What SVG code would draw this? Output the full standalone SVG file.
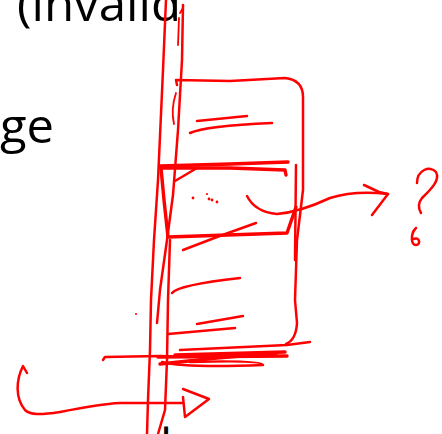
<svg xmlns="http://www.w3.org/2000/svg" width="442" height="434" viewBox="0 0 442 434">
<style>
.ink{fill:none;stroke:#ff0000;stroke-width:2.5;stroke-linecap:round;stroke-linejoin:round}
.thick{stroke-width:3.4}
.thin{stroke-width:1.8}
.dot{fill:#ff0000}
.txt{font-family:"Open Sans","Liberation Sans",sans-serif;font-size:48px;fill:#000}
</style>
<rect width="442" height="434" fill="#fff"/>
<g id="text">
<text class="txt" x="17" y="21" textLength="164" lengthAdjust="spacingAndGlyphs">(invalid</text>
<text class="txt" x="0" y="143" textLength="54" lengthAdjust="spacingAndGlyphs">ge</text>
<text class="txt" x="160" y="463">l</text>
</g>
<g id="verticals">
<path class="ink" d="M166,0 L163,70 L158,180 L154,240 L151,300 L150,350 L148,400 L147,434"/>
<path class="ink" d="M183,5 L182,60 L178,130 L173,195 L167,240 L160,290 L157,323"/>
<path class="ink thin" d="M180,13 L183,8 M179,18 L178,45"/>
<path class="ink thin" d="M176,93 C172,105 172,115 174,124"/>
</g>
<g id="bigbox">
<path class="ink" d="M177,85 L176,80 L230,81 L285,78 Q303,80 303,97 L303,190 L297,240 L295,300 L297,323 Q296,340 286,344"/>
<path class="ink" d="M197,121 L247,116"/>
<path class="ink" d="M190,133 Q205,126 272,123"/>
<path class="ink" d="M172,293 Q178,285 240,278"/>
<path class="ink" d="M197,324 L243,316"/>
<path class="ink" d="M168,334 L235,328"/>
</g>
<g id="square">
<path class="ink thick" d="M160,166 L230,164 L288,162"/>
<path class="ink thick" d="M161,168 L230,168 L285,170 L286,175"/>
<path class="ink thick" d="M161,168 L164,200 L168,237 L287,233 L296,207"/>
<path class="ink" d="M296,165 L295,260"/>
<path class="ink" d="M170,240 L168,300 L167,360 L165,410 L158,434"/>
<path class="ink" d="M175,181 L197,168"/>
<path class="ink" d="M183,250 L217,237 L256,223"/>
<circle class="dot" cx="193" cy="198" r="1.4"/>
<circle class="dot" cx="207" cy="194" r="1.1"/>
<circle class="dot" cx="209" cy="199" r="1.4"/>
<circle class="dot" cx="212" cy="200" r="1.4"/>
<circle class="dot" cx="217" cy="202" r="1.4"/>
</g>
<g id="connectors">
<path class="ink" d="M247,196 Q255,212 277,214 Q300,212 330,198 Q355,190 388,194"/>
<path class="ink" d="M364,185 L379,192 L388,194 L372,215"/>
<path class="ink" d="M27,373 L23,366 C16,380 15,398 25,410 C30,415 40,415 60,412 C80,408 100,404 120,403 L183,403"/>
<path class="ink" d="M183,389 L209,399 L185,417 L183,397"/>
</g>
<g id="question">
<path class="ink" d="M417,183 C417,170 430,165 436,172 C441,181 428,192 422,198 C418,203 418,208 421,213"/>
<path class="ink" d="M416,228 C410,234 411,245 416,245 C421,245 420,236 413,239"/>
</g>
<g id="scribble">
<path class="ink" d="M103,360 L105,357 L160,356 L190,357"/>
<path class="ink" d="M180,350 L287,345 L310,342"/>
<path class="ink thick" d="M158,357 L287,356"/>
<path class="ink thick" d="M160,364 L217,358 L277,353"/>
<path class="ink" d="M162,362 Q185,368 263,365 Q262,360 190,362"/>
<path class="ink thick" d="M175,355 L285,352"/>
<circle class="dot" cx="136" cy="314" r="1"/>
</g>
</svg>
